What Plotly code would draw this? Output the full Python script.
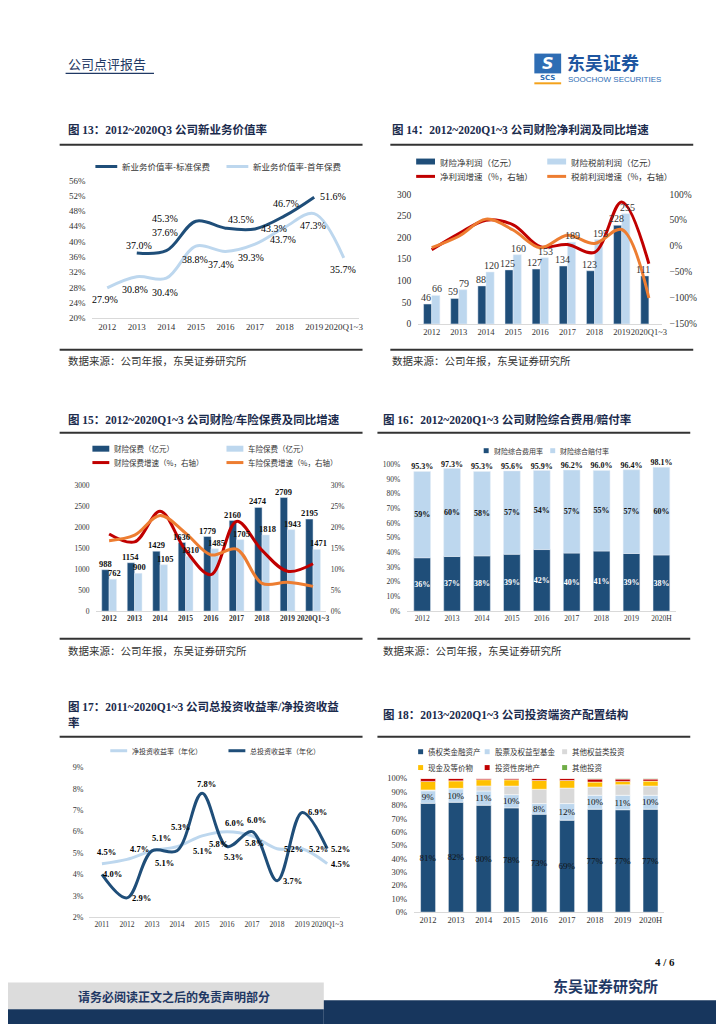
import plotly.graph_objects as go

# ------------------------------------------------------------------ data
years13 = ['2012', '2013', '2014', '2015', '2016', '2017', '2018', '2019', '2020Q1~3']
nbv_std = [None, 37.0, 37.6, 45.3, 43.5, 43.3, 46.7, 51.6, None]
nbv_fyp = [27.9, 30.8, 30.4, 38.8, 37.4, 39.3, 43.7, 47.3, 35.7]

years14 = ['2012', '2013', '2014', '2015', '2016', '2017', '2018', '2019', '2020Q1~3']
net_profit = [46, 59, 88, 125, 127, 134, 123, 228, 111]
pretax_profit = [66, 79, 120, 160, 153, 189, 195, 255, None]
net_growth = [-7, 24, 50, 41, -1, 3, -12, 85, -34]
pretax_growth = [-3, 19, 52, 31, -3, 21, 5, 32, -100]

years15 = ['2012', '2013', '2014', '2015', '2016', '2017', '2018', '2019', '2020Q1~3']
prem_pc = [988, 1154, 1429, 1636, 1779, 2160, 2474, 2709, 2195]
prem_auto = [762, 900, 1105, 1310, 1485, 1705, 1818, 1943, 1471]
prem_pc_g = [18.4, 16.5, 23.8, 14.5, 8.7, 21.4, 14.5, 9.5, 11.3]
prem_auto_g = [16.8, 18.1, 22.8, 18.6, 13.4, 14.8, 6.6, 6.9, 5.9]

years16 = ['2012', '2013', '2014', '2015', '2016', '2017', '2018', '2019', '2020H']
expense_ratio = [36.4, 37.3, 37.7, 38.8, 42.0, 39.6, 41.0, 39.3, 38.3]
loss_ratio = [58.9, 60.0, 57.6, 56.8, 53.9, 56.6, 55.0, 57.1, 59.8]
combined_ratio = [95.3, 97.3, 95.3, 95.6, 95.9, 96.2, 96.0, 96.4, 98.1]

years17 = ['2011', '2012', '2013', '2014', '2015', '2016', '2017', '2018', '2019', '2020Q1~3']
net_yield = [4.5, 4.7, 5.1, 5.3, 5.8, 6.0, 5.8, 5.2, 5.2, 4.5]
total_yield = [4.0, 2.9, 5.1, 5.1, 7.8, 5.3, 6.0, 3.7, 6.9, 5.2]

years18 = ['2012', '2013', '2014', '2015', '2016', '2017', '2018', '2019', '2020H']
alloc_debt = [81.4, 82.2, 80.0, 78.0, 73.3, 68.8, 77.0, 76.6, 77.0]
alloc_equity = [9.4, 10.0, 10.6, 9.9, 7.9, 12.4, 10.4, 10.8, 10.4]
alloc_other_eq = [0.6, 0.4, 3.8, 6.4, 10.7, 11.6, 6.2, 7.9, 6.9]
alloc_cash = [6.4, 5.6, 4.7, 4.7, 6.6, 5.7, 3.7, 2.5, 3.7]
alloc_realestate = [2.2, 1.8, 0.9, 1.0, 1.5, 1.5, 2.2, 1.7, 1.5]
alloc_other = [0.0, 0.0, 0.0, 0.0, 0.0, 0.0, 0.5, 0.5, 0.5]

# ------------------------------------------------------------------ style
W, H = 724, 1024
SERIF = "Liberation Serif, Noto Sans CJK SC"
CJK = "Noto Sans CJK SC"
NAVY = "#1F4E79"
LIGHT = "#BDD7EE"
RED = "#C00000"
ORANGE = "#ED7D31"
GREY = "#D9D9D9"
GOLD = "#FFC000"
GREEN = "#70AD47"
TITLE_C = "#1b2b4d"
AXIS_C = "#D9D9D9"
TICK_C = "#333333"


def px(x):
    return x / W


def py(y):
    return 1 - y / H


fig = go.Figure()
ann = []
shp = []


def text(x, y, s, size=11, color="#000", bold=False, xanchor="left", family=SERIF):
    ann.append(dict(x=px(x), y=py(y), xref="paper", yref="paper",
                    text=("<b>%s</b>" % s) if bold else s, showarrow=False,
                    xanchor=xanchor, yanchor="middle",
                    font=dict(size=size, color=color, family=family)))


def hline(x0, x1, y, color, width):
    shp.append(dict(type="line", xref="paper", yref="paper", x0=px(x0), x1=px(x1),
                    y0=py(y), y1=py(y), line=dict(color=color, width=width)))


def rect(x0, y0, x1, y1, color):
    shp.append(dict(type="rect", xref="paper", yref="paper", x0=px(x0), x1=px(x1),
                    y0=py(y1), y1=py(y0), fillcolor=color, line=dict(width=0)))


def leg_line(x, y, label, color, size, length=20, width=3):
    hline(x, x + length, y, color, width)
    text(x + length + 3, y, label, size=size, color="#333", family=CJK)


def leg_box(x, y, label, color, size, w=18, h=6):
    rect(x, y - h / 2, x + w, y + h / 2, color)
    text(x + w + 3, y, label, size=size, color="#333", family=CJK)


def xax(x0, x1, anchor, cats, size, bold=False):
    return dict(domain=[px(x0), px(x1)], anchor=anchor, type="category",
                categoryorder="array", categoryarray=cats,
                range=[-0.5, len(cats) - 0.5], showline=True, linecolor=AXIS_C,
                linewidth=1, ticks="", showgrid=False, zeroline=False, tickangle=0,
                tickfont=dict(family=SERIF, size=size, color=TICK_C,
                              weight="bold" if bold else "normal"),
                fixedrange=True)


def yax(y0, y1, anchor, rng, dtick, size, suffix="", side="left", overlaying=None, standoff=4):
    d = dict(domain=[py(y1), py(y0)], anchor=anchor, range=rng, dtick=dtick,
             tick0=rng[0], ticksuffix=suffix, showline=False, showgrid=False,
             zeroline=False, ticks="", side=side, ticklabelstandoff=standoff,
             tickfont=dict(family=SERIF, size=size, color=TICK_C), fixedrange=True)
    if overlaying:
        d["overlaying"] = overlaying
        d.pop("domain")
    return d


def labels(xr, yr, vals, dx, dy, fmt, size, bold):
    # x given as category index so numeric-looking category names are not misread
    for i, (v, a, b) in enumerate(zip(vals, dx, dy)):
        if v is None:
            continue
        t = fmt % v
        ann.append(dict(x=i, y=v, xref=xr, yref=yr, text=("<b>%s</b>" % t) if bold else t,
                        showarrow=False, xshift=a, yshift=b,
                        font=dict(family=SERIF, size=size, color="#000")))


def bar_labels(xr, yr, vals, xoff, size, bold, color):
    # value labels just above each bar (annotations sit above all traces)
    for i, v in enumerate(vals):
        if v is None:
            continue
        t = "%d" % v
        ann.append(dict(x=i + xoff, y=v, xref=xr, yref=yr, yanchor="bottom",
                        text=("<b>%s</b>" % t) if bold else t, showarrow=False, yshift=-1,
                        font=dict(family=SERIF, size=size, color=color)))


# ------------------------------------------------------------------ page header / footer
text(58, 51, "公司点评报告", size=13, color="#1F3864", family=CJK)
hline(58, 147, 61, "#1F3864", 1.2)
rect(530, 41, 557, 61, "#2E6DB4")
text(543.5, 51, "<i>S</i>", size=16, color="white", bold=True, xanchor="center", family="DejaVu Sans")
text(543.5, 66, "SCS", size=7, color="#2E6DB4", bold=True, xanchor="center", family="DejaVu Sans")
hline(530, 557, 71, "#F4A21B", 2)
text(561, 49, "东吴证券", size=18, color="#1E56A0", bold=True, family=CJK)
text(562, 67, "SOOCHOW SECURITIES", size=8, color="#2E6DB4", family="Liberation Sans")

text(662, 958, "4 / 6", size=11, color="#111", bold=True, xanchor="center")
text(602, 982, "东吴证券研究所", size=15, color="#1F3864", bold=True, xanchor="center", family=CJK)
rect(0, 979, 318, 1006, "#DCDCDC")
rect(318, 997, 724, 1024, "#17365D")
rect(0, 1006, 318, 1024, "#17365D")
text(167, 993, "请务必阅读正文之后的免责声明部分", size=12, color="#1F3864", bold=True, xanchor="center", family=CJK)

# ------------------------------------------------------------------ titles, rules, sources
TSZ = 11.5
text(58, 118, "图 13：2012~2020Q3 公司新业务价值率", size=TSZ, color=TITLE_C, bold=True)
text(385, 118, "图 14：2012~2020Q1~3 公司财险净利润及同比增速", size=TSZ, color=TITLE_C, bold=True)
hline(52, 357, 133, "#333", 2)
hline(385, 690, 133, "#333", 2)
hline(52, 357, 340, "#333", 2)
hline(385, 690, 340, "#333", 2)
text(58, 351, "数据来源：公司年报，东吴证券研究所", size=10.5, color="#333", family=CJK)
text(385, 351, "数据来源：公司年报，东吴证券研究所", size=10.5, color="#333", family=CJK)

text(58, 411, "图 15：2012~2020Q1~3 公司财险/车险保费及同比增速", size=TSZ, color=TITLE_C, bold=True)
text(376, 411, "图 16：2012~2020Q1~3 公司财险综合费用/赔付率", size=TSZ, color=TITLE_C, bold=True)
hline(52, 357, 424, "#333", 2)
hline(372, 687, 424, "#333", 2)
hline(52, 357, 632, "#333", 2)
hline(372, 687, 632, "#333", 2)
text(58, 644, "数据来源：公司年报，东吴证券研究所", size=10.5, color="#333", family=CJK)
text(376, 644, "数据来源：公司年报，东吴证券研究所", size=10.5, color="#333", family=CJK)

text(58, 700, "图 17：2011~2020Q1~3 公司总投资收益率/净投资收益", size=TSZ, color=TITLE_C, bold=True)
text(58, 717, "率", size=TSZ, color=TITLE_C, bold=True)
text(376, 708, "图 18：2013~2020Q1~3 公司投资端资产配置结构", size=TSZ, color=TITLE_C, bold=True)
hline(52, 357, 731, "#333", 2)
hline(372, 687, 731, "#333", 2)

# ------------------------------------------------------------------ chart 13
fig.add_trace(go.Scatter(x=years13, y=nbv_std, mode="lines", line=dict(color=NAVY, width=3, shape="spline"),
                         xaxis="x", yaxis="y", connectgaps=False, hoverinfo="skip"))
fig.add_trace(go.Scatter(x=years13, y=nbv_fyp, mode="lines", line=dict(color=LIGHT, width=3, shape="spline"),
                         xaxis="x", yaxis="y", hoverinfo="skip"))
labels("x", "y", nbv_std, [0, 2, -1, -31, 16, 19, 1, 19, 0], [0, 7, 18, 3, 9, 0, 12, 1, 0], "%.1f%%", 10, False)
labels("x", "y", nbv_fyp, [-2, -2, -1, -1, -4, -4, -2, -1, -1], [-12, -13, -14, -13, -13, -13, -12, -12, -12], "%.1f%%", 10, False)
leg_line(88, 155, "新业务价值率-标准保费", NAVY, 8.5, length=22)
leg_line(220, 155, "新业务价值率-首年保费", LIGHT, 8.5, length=22)

# ------------------------------------------------------------------ chart 14
fig.add_trace(go.Bar(x=years14, y=net_profit, marker_color=NAVY, width=0.3, offset=-0.3,
                     xaxis="x2", yaxis="y2", hoverinfo="skip"))
fig.add_trace(go.Bar(x=years14, y=pretax_profit, marker_color=LIGHT, width=0.3, offset=0.0,
                     xaxis="x2", yaxis="y2", hoverinfo="skip"))
fig.add_trace(go.Scatter(x=years14, y=net_growth, mode="lines", line=dict(color=RED, width=3, shape="spline"),
                         xaxis="x2", yaxis="y7", hoverinfo="skip"))
fig.add_trace(go.Scatter(x=years14, y=pretax_growth, mode="lines", line=dict(color=ORANGE, width=3, shape="spline"),
                         xaxis="x2", yaxis="y7", hoverinfo="skip"))
bar_labels("x2", "y2", net_profit, -0.2, 10, False, "#333")
bar_labels("x2", "y2", pretax_profit, 0.2, 10, False, "#333")
leg_box(411, 150, "财险净利润（亿元）", NAVY, 8.5, w=19, h=6)
leg_box(543, 150, "财险税前利润（亿元）", LIGHT, 8.5, w=19, h=6)
leg_line(411, 165, "净利润增速（%，右轴）", RED, 8.5, length=19)
leg_line(543, 165, "税前利润增速（%，右轴）", ORANGE, 8.5, length=19)

# ------------------------------------------------------------------ chart 15
fig.add_trace(go.Bar(x=years15, y=prem_pc, marker_color=NAVY, width=0.29, offset=-0.29,
                     xaxis="x3", yaxis="y3", hoverinfo="skip"))
fig.add_trace(go.Bar(x=years15, y=prem_auto, marker_color=LIGHT, width=0.29, offset=0.0,
                     xaxis="x3", yaxis="y3", hoverinfo="skip"))
fig.add_trace(go.Scatter(x=years15, y=prem_pc_g, mode="lines", line=dict(color=RED, width=3, shape="spline"),
                         xaxis="x3", yaxis="y8", hoverinfo="skip"))
fig.add_trace(go.Scatter(x=years15, y=prem_auto_g, mode="lines", line=dict(color=ORANGE, width=3, shape="spline"),
                         xaxis="x3", yaxis="y8", hoverinfo="skip"))
bar_labels("x3", "y3", prem_pc, -0.15, 8.5, True, "#111")
bar_labels("x3", "y3", prem_auto, 0.2, 8.5, True, "#111")
leg_box(85, 440, "财险保费（亿元）", NAVY, 7.5, w=17, h=6)
leg_box(220, 440, "车险保费（亿元）", LIGHT, 7.5, w=17, h=6)
leg_line(85, 454, "财险保费增速（%，右轴）", RED, 7.5, length=17)
leg_line(220, 454, "车险保费增速（%，右轴）", ORANGE, 7.5, length=17)

# ------------------------------------------------------------------ chart 16
INTXT = dict(textposition="inside", insidetextanchor="middle", constraintext="none", textangle=0)
fig.add_trace(go.Bar(x=years16, y=expense_ratio, marker_color=NAVY, width=0.56, offset=-0.28,
                     texttemplate="%{y:.0f}%", textfont=dict(family=SERIF, size=8, color="white", weight="bold"),
                     xaxis="x4", yaxis="y4", hoverinfo="skip", **INTXT))
fig.add_trace(go.Bar(x=years16, y=loss_ratio, base=expense_ratio, marker_color=LIGHT, width=0.56, offset=-0.28,
                     texttemplate="%{y:.0f}%", textfont=dict(family=SERIF, size=8, color="#111", weight="bold"),
                     xaxis="x4", yaxis="y4", hoverinfo="skip", **INTXT))
fig.add_trace(go.Scatter(x=years16, y=combined_ratio, mode="text", text=["%.1f%%" % v for v in combined_ratio],
                         textposition="top center", cliponaxis=False,
                         textfont=dict(family=SERIF, size=8, color="#111", weight="bold"),
                         xaxis="x4", yaxis="y4", hoverinfo="skip"))
leg_box(479, 442, "财险综合费用率", NAVY, 7, w=5, h=5)
leg_box(546, 442, "财险综合赔付率", LIGHT, 7, w=5, h=5)

# ------------------------------------------------------------------ chart 17
fig.add_trace(go.Scatter(x=years17, y=net_yield, mode="lines", line=dict(color=LIGHT, width=3, shape="spline"),
                         xaxis="x5", yaxis="y5", hoverinfo="skip"))
fig.add_trace(go.Scatter(x=years17, y=total_yield, mode="lines", line=dict(color=NAVY, width=3, shape="spline"),
                         xaxis="x5", yaxis="y5", hoverinfo="skip"))
labels("x5", "y5", total_yield, [11, 15, 13, 25, 4, 6, 4, 15, 15, 13], [0, 0, -12, 0, 9, -10, 12, 0, 0, 0], "%.1f%%", 8.5, True)
labels("x5", "y5", net_yield, [5, 13, 10, 3, 16, 7, 2, 16, 16, 13], [12, 10, 13, 20, -8, 9, -7, 0, 0, 0], "%.1f%%", 8.5, True)
leg_line(103, 745, "净投资收益率（年化）", LIGHT, 7, length=17)
leg_line(222, 745, "总投资收益率（年化）", NAVY, 7, length=17)

# ------------------------------------------------------------------ chart 18
stack_series = [
    (alloc_debt, NAVY, True),
    (alloc_equity, LIGHT, True),
    (alloc_other_eq, GREY, False),
    (alloc_cash, GOLD, False),
    (alloc_realestate, RED, False),
    (alloc_other, GREEN, False),
]
base = [0.0] * len(years18)
for vals, col, lab in stack_series:
    fig.add_trace(go.Bar(x=years18, y=vals, base=list(base), marker_color=col, width=0.54, offset=-0.27,
                         marker_line=dict(color="white", width=0.5),
                         texttemplate="%{y:.0f}%" if lab else None,
                         textposition="inside" if lab else "none",
                         insidetextanchor="middle", constraintext="none", textangle=0,
                         textfont=dict(family=SERIF, size=9, color="#111"),
                         xaxis="x6", yaxis="y6", hoverinfo="skip"))
    base = [b + v for b, v in zip(base, vals)]
leg_box(413, 746, "债权类金融资产", NAVY, 7.5, w=5, h=5)
leg_box(480, 746, "股票及权益型基金", LIGHT, 7.5, w=5, h=5)
leg_box(558, 746, "其他权益类投资", GREY, 7.5, w=5, h=5)
leg_box(413, 762, "现金及等价物", GOLD, 7.5, w=5, h=5)
leg_box(480, 762, "投资性房地产", RED, 7.5, w=5, h=5)
leg_box(558, 762, "其他投资", GREEN, 7.5, w=5, h=5)

# ------------------------------------------------------------------ layout
layout = dict(
    width=W, height=H, margin=dict(l=0, r=0, t=0, b=0), showlegend=False,
    paper_bgcolor="white", plot_bgcolor="white", barmode="overlay",
    annotations=ann, shapes=shp,
    xaxis=xax(85, 353, "y", years13, 9),
    yaxis=yax(169, 308, "x", [20, 56], 4, 9, "%", standoff=6),
    xaxis2=xax(413, 659, "y2", years14, 8.5),
    yaxis2=yax(183, 314, "x2", [0, 300], 50, 9.5, standoff=6),
    yaxis7=yax(183, 314, "x2", [-150, 100], 50, 9.5, "%", side="right", overlaying="y2", standoff=6),
    xaxis3=xax(89, 320, "y3", years15, 7.5, bold=True),
    yaxis3=yax(477, 604, "x3", [0, 3000], 500, 7.5, standoff=6),
    yaxis8=yax(477, 604, "x3", [0, 30], 5, 7.5, "%", side="right", overlaying="y3", standoff=4),
    xaxis4=xax(402, 673, "y4", years16, 7.5),
    yaxis4=yax(456, 604, "x4", [0, 100], 10, 7.5, "%", standoff=6),
    xaxis5=xax(82, 334, "y5", years17, 7.5),
    yaxis5=yax(762, 913, "x5", [2, 9], 1, 8, "%", standoff=5),
    xaxis6=xax(409, 661, "y6", years18, 8.5),
    yaxis6=yax(773, 908, "x6", [0, 100], 10, 8.5, "%", standoff=6),
)
fig.update_layout(**layout)
fig.write_html("out.html")
